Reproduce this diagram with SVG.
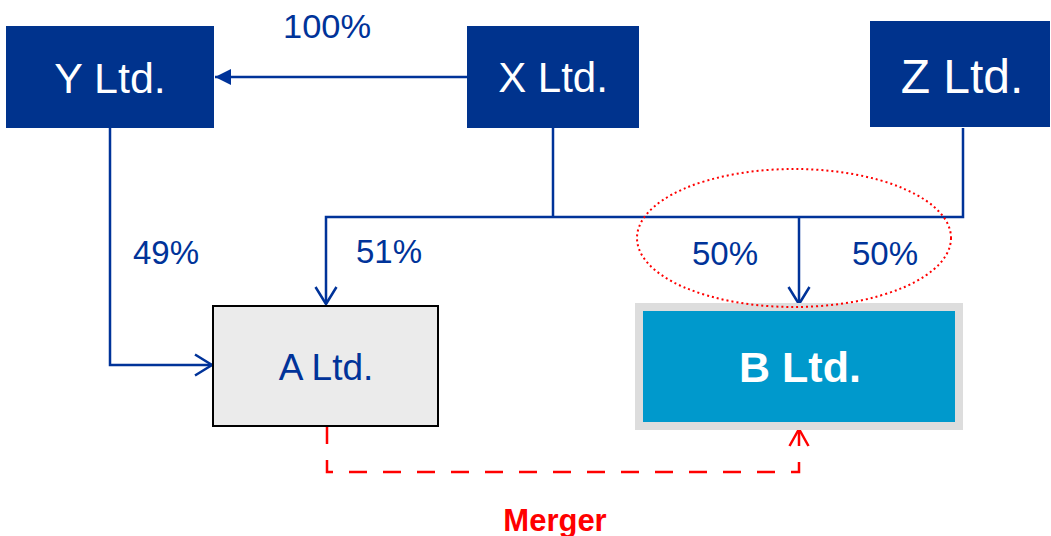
<svg xmlns="http://www.w3.org/2000/svg" width="1051" height="536" viewBox="0 0 1051 536">
<style>
.bluebox{fill:#00338D}
.boxtxt{font-family:"Liberation Sans",Arial,sans-serif;fill:#ffffff;text-anchor:middle}
.lbl{font-family:"Liberation Sans",Arial,sans-serif;fill:#003399;font-size:33px;text-anchor:middle}
.conn{fill:none;stroke:#003399;stroke-width:2.5}
.merge{fill:none;stroke:#ff0000;stroke-width:2.5;stroke-dasharray:18 16}
</style>
<defs>
<marker id="filled" markerUnits="userSpaceOnUse" markerWidth="24" markerHeight="24" viewBox="-20 -12 24 24" refX="0" refY="0" orient="auto">
<path d="M-16,-8 L0,0 L-16,8 Z" fill="#003399"/>
</marker>
<marker id="open" markerUnits="userSpaceOnUse" markerWidth="26" markerHeight="26" viewBox="-22 -13 26 26" refX="0" refY="0" orient="auto">
<path d="M-17,-10.5 L0,0 L-17,10.5" fill="none" stroke="#003399" stroke-width="2.5"/>
</marker>
<marker id="openred" markerUnits="userSpaceOnUse" markerWidth="26" markerHeight="26" viewBox="-22 -13 26 26" refX="0" refY="0" orient="auto">
<path d="M-17,-9.5 L0,0 L-17,9.5" fill="none" stroke="#ff0000" stroke-width="2.5"/>
</marker>
</defs>
<rect width="1051" height="536" fill="#ffffff"/>

<g id="connectors">
<path class="conn" d="M467,77 H215" marker-end="url(#filled)"/>
<path class="conn" d="M110,128 V365 H212" marker-end="url(#open)"/>
<path class="conn" d="M553,128 V217"/>
<path class="conn" d="M963,128 V217 H326 V304" marker-end="url(#open)"/>
<path class="conn" d="M799,217 V304" marker-end="url(#open)"/>
<path class="merge" d="M327,426 V472 H799 V429" marker-end="url(#openred)"/>
</g>

<g id="node-Y">
<rect class="bluebox" x="6" y="26" width="208" height="102"/>
<text class="boxtxt" x="110" y="93" font-size="43">Y Ltd.</text>
</g>
<g id="node-X">
<rect class="bluebox" x="467" y="26" width="172" height="102"/>
<text class="boxtxt" x="553" y="92" font-size="42">X Ltd.</text>
</g>
<g id="node-Z">
<rect class="bluebox" x="870" y="21" width="180" height="106"/>
<text class="boxtxt" x="962" y="93" font-size="48">Z Ltd.</text>
</g>
<g id="node-A">
<rect x="213" y="306" width="225" height="120" fill="#EBEBEB" stroke="#000000" stroke-width="2"/>
<text x="326" y="380" font-family="'Liberation Sans',Arial,sans-serif" font-size="37" fill="#003399" text-anchor="middle">A Ltd.</text>
</g>
<g id="node-B">
<rect x="635" y="303" width="328" height="127" fill="#DDDDDD"/>
<rect x="643" y="311" width="312" height="111" fill="#0099CC"/>
<text class="boxtxt" x="800" y="382" font-size="43" font-weight="bold">B Ltd.</text>
</g>

<g id="labels">
<text class="lbl" x="327" y="38" font-size="32" textLength="88" lengthAdjust="spacingAndGlyphs">100%</text>
<text class="lbl" x="166" y="264">49%</text>
<text class="lbl" x="389" y="263">51%</text>
<text class="lbl" x="725" y="265">50%</text>
<text class="lbl" x="885" y="265">50%</text>
<text x="555" y="531" font-family="'Liberation Sans',Arial,sans-serif" font-size="31" font-weight="bold" fill="#ff0000" text-anchor="middle">Merger</text>
</g>

<g id="highlight">
<ellipse cx="794" cy="238" rx="157" ry="69" fill="none" stroke="#ff0000" stroke-width="2" stroke-dasharray="2 3"/>
</g>
</svg>
